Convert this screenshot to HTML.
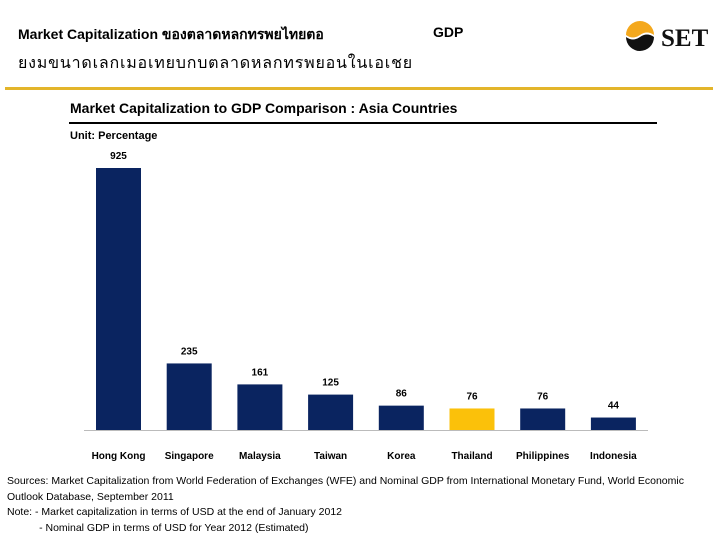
<!DOCTYPE html>
<html><head><meta charset="utf-8"><style>
body{margin:0;width:720px;height:540px;background:#fff;font-family:"Liberation Sans","Noto Sans CJK SC",sans-serif;position:relative;overflow:hidden}
.a{position:absolute;white-space:nowrap}
</style></head><body>
<div class="a" style="left:18px;top:24px;font-size:14px;font-weight:bold">Market Capitalization ของตลาดหลกทรพยไทยตอ</div>
<div class="a" style="left:433px;top:24px;font-size:14px;font-weight:bold">GDP</div>
<div class="a" style="left:18px;top:51px;font-size:16px;letter-spacing:0.8px">ยงมขนาดเลกเมอเทยบกบตลาดหลกทรพยอนในเอเชย</div>
<svg class="a" style="left:624px;top:18px" width="92" height="36">
<path d="M2 17 A14 14 0 0 1 30 17 Q23 12 16 17 Q9 22 2 17Z" fill="#f4a81d"/>
<path d="M2 19 Q9 24 16 19 Q23 14 30 19 A14 14 0 0 1 2 19Z" fill="#111"/>
<text x="37" y="28" font-family="Liberation Serif,serif" font-weight="bold" font-size="25" fill="#111">SET</text>
</svg>
<div class="a" style="left:5px;top:87px;width:708px;height:3px;background:#e3b52a"></div>
<div class="a" style="left:70px;top:100px;font-size:14px;font-weight:bold">Market Capitalization to GDP Comparison : Asia Countries</div>
<div class="a" style="left:69px;top:122px;width:588px;height:2px;background:#000"></div>
<div class="a" style="left:70px;top:130px;font-size:11px;font-weight:bold">Unit: Percentage</div>
<svg id="chart" class="a" style="left:0;top:0" width="720" height="470"></svg>
<div class="a" style="left:7px;top:474px;font-size:10.5px;line-height:15.5px;white-space:normal;width:710px">Sources: Market Capitalization from World Federation of Exchanges (WFE) and Nominal GDP from International Monetary Fund, World Economic Outlook Database, September 2011<br>Note: - Market capitalization in terms of USD at the end of January 2012<br>&nbsp;&nbsp;&nbsp;&nbsp;&nbsp;&nbsp;&nbsp;&nbsp;&nbsp;&nbsp;&nbsp;- Nominal GDP in terms of USD for Year 2012 (Estimated)</div>
<script>
const categories=["Hong Kong","Singapore","Malaysia","Taiwan","Korea","Thailand","Philippines","Indonesia"];
const values=[925,235,161,125,86,76,76,44];
const highlight=["Thailand"];
const svg=document.getElementById('chart');
const NS='http://www.w3.org/2000/svg';
const base=430,scale=262/925,x0=96,step=70.7,bw=45;
const y=v=>base-v*scale;
const xs=i=>x0+i*step;
const ax=document.createElementNS(NS,'line');
ax.setAttribute('x1',84);ax.setAttribute('x2',648);ax.setAttribute('y1',base+0.5);ax.setAttribute('y2',base+0.5);ax.setAttribute('stroke','#bbb');


svg.appendChild(ax);
categories.forEach((c,i)=>{
 const r=document.createElementNS(NS,'rect');
 r.setAttribute('x',xs(i));r.setAttribute('y',y(values[i]));r.setAttribute('width',bw);r.setAttribute('height',base-y(values[i]));
 r.setAttribute('fill',highlight.includes(c)?'#fbc10a':'#0a2460');
 
 
 svg.appendChild(r);
 const t=document.createElementNS(NS,'text');
 t.setAttribute('x',xs(i)+bw/2);t.setAttribute('y',y(values[i])-9);t.setAttribute('text-anchor','middle');
 t.setAttribute('font-size','10');t.setAttribute('font-weight','bold');t.textContent=values[i];
 
 
 svg.appendChild(t);
 const l=document.createElementNS(NS,'text');
 l.setAttribute('x',xs(i)+bw/2);l.setAttribute('y',459);l.setAttribute('text-anchor','middle');
 l.setAttribute('font-size','10');l.setAttribute('font-weight','bold');l.textContent=c;
 
 
 svg.appendChild(l);
});
</script>
</body></html>
